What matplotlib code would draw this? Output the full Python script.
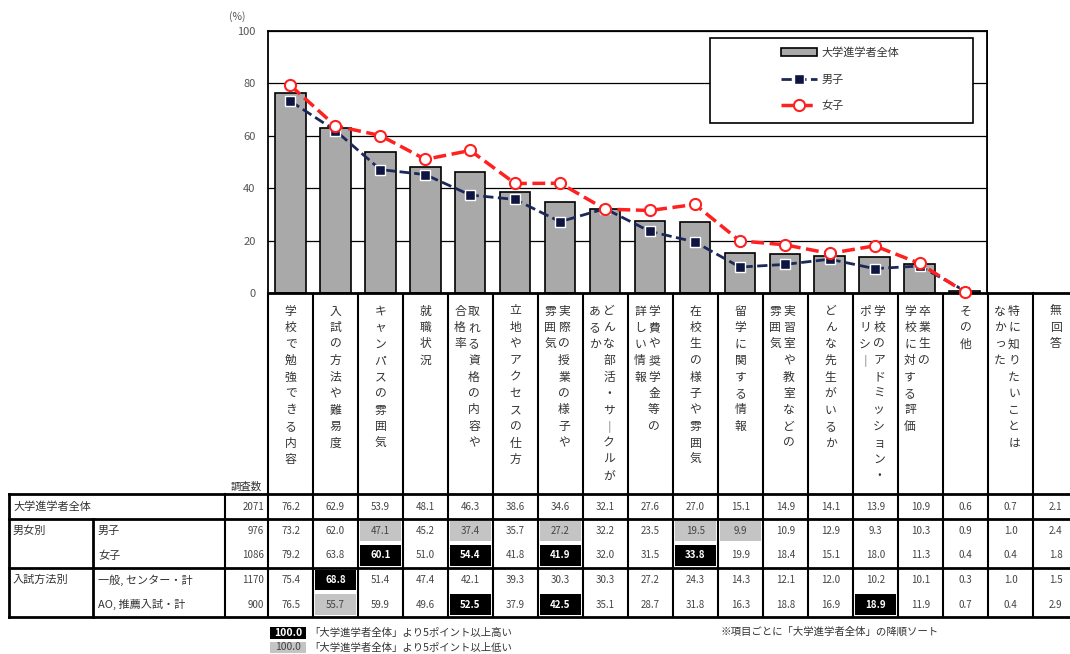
import matplotlib
matplotlib.use('Agg')
import matplotlib.pyplot as plt
from matplotlib.patches import Rectangle
import numpy as np

plt.rcParams['font.family'] = ['Noto Sans CJK JP', 'DejaVu Sans']

# category labels (vertical text, first line is the right-hand one)
labels = [
    ['学校で勉強できる内容'],
    ['入試の方法や難易度'],
    ['キャンパスの雰囲気'],
    ['就職状況'],
    ['取れる資格の内容や', '合格率'],
    ['立地やアクセスの仕方'],
    ['実際の授業の様子や', '雰囲気'],
    ['どんな部活・サークルが', 'あるか'],
    ['学費や奨学金等の', '詳しい情報'],
    ['在校生の様子や雰囲気'],
    ['留学に関する情報'],
    ['実習室や教室などの', '雰囲気'],
    ['どんな先生がいるか'],
    ['学校のアドミッション・', 'ポリシー'],
    ['卒業生の', '学校に対する評価'],
    ['その他'],
    ['特に知りたいことは', 'なかった'],
    ['無回答'],
]

overall = [76.2, 62.9, 53.9, 48.1, 46.3, 38.6, 34.6, 32.1, 27.6, 27.0, 15.1, 14.9, 14.1, 13.9, 10.9, 0.6, 0.7, 2.1]
male    = [73.2, 62.0, 47.1, 45.2, 37.4, 35.7, 27.2, 32.2, 23.5, 19.5, 9.9, 10.9, 12.9, 9.3, 10.3, 0.9, 1.0, 2.4]
female  = [79.2, 63.8, 60.1, 51.0, 54.4, 41.8, 41.9, 32.0, 31.5, 33.8, 19.9, 18.4, 15.1, 18.0, 11.3, 0.4, 0.4, 1.8]
general = [75.4, 68.8, 51.4, 47.4, 42.1, 39.3, 30.3, 30.3, 27.2, 24.3, 14.3, 12.1, 12.0, 10.2, 10.1, 0.3, 1.0, 1.5]
ao      = [76.5, 55.7, 59.9, 49.6, 52.5, 37.9, 42.5, 35.1, 28.7, 31.8, 16.3, 18.8, 16.9, 18.9, 11.9, 0.7, 0.4, 2.9]
counts  = [2071, 976, 1086, 1170, 900]

# highlighted cells: (row, column) -> 'hi' (black) / 'lo' (gray)
marks = {
    (1, 2): 'lo', (1, 4): 'lo', (1, 6): 'lo', (1, 9): 'lo', (1, 10): 'lo',
    (2, 2): 'hi', (2, 4): 'hi', (2, 6): 'hi', (2, 9): 'hi',
    (3, 1): 'hi',
    (4, 1): 'lo', (4, 4): 'hi', (4, 6): 'hi', (4, 13): 'hi',
}

n_plot = 16
W, H = 1070, 654

fig = plt.figure(figsize=(W / 100, H / 100), dpi=100)

# ---- chart ----
ax = fig.add_axes([268 / W, 1 - 293 / H, 719 / W, 262 / H], zorder=2)
x = np.arange(n_plot)
bars = ax.bar(x, overall[:n_plot], width=0.68, color='#a9a9a9', edgecolor='black',
              linewidth=1.2, zorder=2, label='大学進学者全体')
lm, = ax.plot(x, male[:n_plot], ls='--', color='#1c2858', lw=2, marker='s', ms=6.5,
              mfc='#0d1540', mec='white', mew=1, zorder=3, label='男子', clip_on=False)
lf, = ax.plot(x, female[:n_plot], ls='--', color='#ff2020', lw=2.5, marker='o', ms=8,
              mfc='white', mec='#ff2020', mew=1.5, zorder=4, label='女子', clip_on=False)
ax.set_xlim(-0.5, n_plot - 0.5)
ax.set_ylim(0, 100)
ax.set_xticks([])
ax.set_yticks([0, 20, 40, 60, 80, 100])
ax.tick_params(axis='y', length=0, labelsize=8, labelcolor='#555555', pad=9)
ax.yaxis.grid(True, color='black', lw=0.9, zorder=1)
ax.set_axisbelow(True)
for s in ax.spines.values():
    s.set_linewidth(1.3)
ax.spines['bottom'].set_linewidth(2)

# legend box
ax.add_patch(Rectangle((0.615, 0.649), 0.365, 0.324, transform=ax.transAxes,
                       fill=True, fc='white', ec='black', lw=1.2, zorder=5))
leg = ax.legend([bars, lm, lf], ['大学進学者全体', '男子', '女子'], loc='upper left',
                bbox_to_anchor=(0.7, 0.975), frameon=False,
                fontsize=8, labelspacing=1.45, handlelength=3.2, handletextpad=0.4)
leg.set_zorder(6)
for t in leg.get_texts():
    t.set_color('#333333')

fig.text(237 / W, 1 - 17 / H, '(%)', ha='center', va='center', fontsize=7.5, color='#555555')

# ---- table area (pixel coordinates) ----
tx = fig.add_axes([0, 0, 1, 1], zorder=1)
tx.set_xlim(0, W)
tx.set_ylim(H, 0)
tx.axis('off')

col0, cw = 268, 45
top_h = 293
rows_y = [494, 519, 543, 568, 592, 617]

# column lines through the header and table
for k in range(len(labels) + 1):
    xx = col0 + cw * k
    tx.plot([xx, xx], [top_h, rows_y[-1]], color='black', lw=1.5)
tx.plot([987, W], [top_h, top_h], color='black', lw=2)
tx.plot([987, 987], [31, top_h], color='black', lw=1.3)

# vertical category labels
for k, lines in enumerate(labels):
    left = col0 + cw * k
    if len(lines) == 1:
        xs = [left + cw / 2]
    else:
        xs = [left + 26, left + 12]
    for xl, line in zip(xs, lines):
        for i, ch in enumerate(line):
            if ch == 'ー':
                ch = '｜'
            tx.text(xl, 311 + 16.5 * i, ch, ha='center', va='center',
                    fontsize=8.5, color='#333333')

tx.text(246, 487, '調査数', ha='center', va='center', fontsize=7.5, color='#333333')

# table frame
for yy in [494, 519, 568, 617]:
    tx.plot([9, W], [yy, yy], color='black', lw=2)
tx.plot([9, 9], [494, 617], color='black', lw=2)
tx.plot([93, 93], [519, 617], color='black', lw=2)
tx.plot([225, 225], [494, 617], color='black', lw=1.5)

tx.text(13, 506.5, '大学進学者全体', va='center', fontsize=8, color='#333333')
tx.text(13, 531, '男女別', va='center', fontsize=8, color='#333333')
tx.text(98, 531, '男子', va='center', fontsize=8, color='#333333')
tx.text(98, 555.5, '女子', va='center', fontsize=8, color='#333333')
tx.text(13, 580, '入試方法別', va='center', fontsize=8, color='#333333')
tx.text(98, 580, '一般, センター・計', va='center', fontsize=8, color='#333333')
tx.text(98, 604.5, 'AO, 推薦入試・計', va='center', fontsize=8, color='#333333')

table = [overall, male, female, general, ao]
for r, vals in enumerate(table):
    y0, y1 = rows_y[r], rows_y[r + 1]
    yc = (y0 + y1) / 2
    tx.text(264, yc, str(counts[r]), ha='right', va='center', fontsize=7, color='#444444')
    for k, v in enumerate(vals):
        left = col0 + cw * k
        m = marks.get((r, k))
        color, weight = '#444444', 'normal'
        if m == 'hi':
            tx.add_patch(Rectangle((left + 2, y0 + 2), cw - 4, y1 - y0 - 4, fc='black', ec='none'))
            color, weight = 'white', 'bold'
        elif m == 'lo':
            tx.add_patch(Rectangle((left + 2, y0 + 2), cw - 4, y1 - y0 - 4, fc='#c4c4c4', ec='none'))
        tx.text(left + cw / 2, yc, f'{v:.1f}', ha='center', va='center',
                fontsize=7, color=color, fontweight=weight)

# notes
tx.add_patch(Rectangle((270, 627), 36, 12, fc='black', ec='none'))
tx.text(288, 633, '100.0', ha='center', va='center', fontsize=7.5, color='white', fontweight='bold')
tx.text(309, 633, '「大学進学者全体」より5ポイント以上高い', va='center', fontsize=7.5, color='#333333')
tx.add_patch(Rectangle((270, 642), 36, 11, fc='#c4c4c4', ec='none'))
tx.text(288, 647.5, '100.0', ha='center', va='center', fontsize=7.5, color='#444444')
tx.text(309, 647.5, '「大学進学者全体」より5ポイント以上低い', va='center', fontsize=7.5, color='#333333')
tx.text(720, 632, '※項目ごとに「大学進学者全体」の降順ソート', va='center', fontsize=7.5, color='#333333')

fig.savefig('out.png', dpi=100)
